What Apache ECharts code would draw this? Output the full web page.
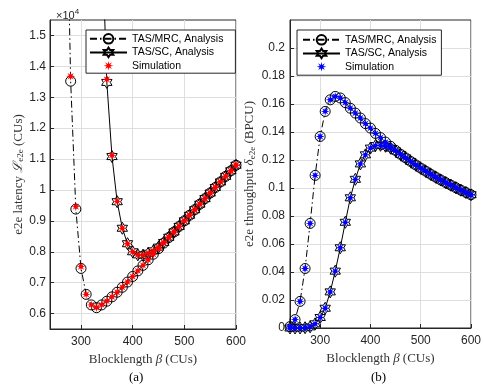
<!DOCTYPE html>
<html>
<head>
<meta charset="utf-8">
<script src="https://cdn.jsdelivr.net/npm/echarts@6/dist/echarts.min.js"></script>
<style>
  html, body { margin: 0; padding: 0; background: #fff; }
  #chart { width: 484px; height: 387px; }
</style>
</head>
<body>
<div id="chart"></div>
<script>
// blocklength grid (CUs), shared by both panels
const beta = [240,250,260,270,280,290,300,310,320,330,340,350,360,370,380,390,400,410,420,430,440,450,460,470,480,490,500,510,520,530,540,550,560,570,580,590,600];

// (a) e2e latency, x10^4 CUs
const latMrc = [null,null,null,2.18,1.352,0.938,0.746,0.662,0.628,0.619,0.628,0.640,0.654,0.669,0.685,0.702,0.720,0.738,0.756,0.774,0.792,0.810,0.828,0.846,0.864,0.882,0.900,0.918,0.936,0.954,0.972,0.990,1.008,1.026,1.044,1.062,1.080];
const latSc = [null,null,null,null,null,null,null,null,null,null,1.853,1.348,1.108,0.962,0.876,0.826,0.800,0.790,0.789,0.795,0.803,0.815,0.830,0.847,0.864,0.882,0.900,0.918,0.936,0.954,0.972,0.990,1.008,1.026,1.044,1.062,1.080];
const latSimMrc = [null,null,null,null,1.368,0.946,0.752,0.662,0.628,0.619,0.628,0.640,0.654,0.669,0.685,0.702,0.720,0.738,0.756,0.774,0.792,0.810,0.828,0.846,0.864,0.882,0.900,0.918,0.936,0.954,0.972,0.990,1.008,1.026,1.044,1.062,1.080];
const latSimSc = [null,null,null,null,null,null,null,null,null,null,null,1.358,1.112,0.963,0.876,0.826,0.800,0.790,0.789,0.795,0.803,0.815,0.830,0.847,0.864,0.882,0.900,0.918,0.936,0.954,0.972,0.990,1.008,1.026,1.044,1.062,1.080];

// (b) e2e throughput, BPCU
const thrMrc = [0.001,0.006,0.019,0.0425,0.0747,0.109,0.1368,0.1547,0.163,0.1654,0.1643,0.161,0.157,0.1535,0.150,0.146,0.1428,0.139,0.136,0.1328,0.1298,0.1269,0.1241,0.1215,0.119,0.1165,0.1142,0.112,0.1098,0.1077,0.1057,0.1038,0.102,0.1002,0.0984,0.0968,0.0952];
const thrSc = [0,0,0,0.0002,0.0008,0.003,0.0075,0.0141,0.0258,0.0406,0.0573,0.0755,0.093,0.1062,0.1172,0.1237,0.1285,0.1303,0.1305,0.1298,0.1285,0.1265,0.124,0.1215,0.119,0.1165,0.1142,0.112,0.1098,0.1077,0.1057,0.1038,0.102,0.1002,0.0984,0.0968,0.0952];
const thrSimMrc = thrMrc;
const thrSimSc = thrSc;

const xTicks = [300, 400, 500, 600];
const latTicks = [0.6, 0.7, 0.8, 0.9, 1, 1.1, 1.2, 1.3, 1.4, 1.5];
const thrTicks = [0, 0.02, 0.04, 0.06, 0.08, 0.1, 0.12, 0.14, 0.16, 0.18, 0.2];

const labels = {
  'a-mrc': 'TAS/MRC, Analysis', 'a-sc': 'TAS/SC, Analysis', 'a-sim': 'Simulation',
  'b-mrc': 'TAS/MRC, Analysis', 'b-sc': 'TAS/SC, Analysis', 'b-sim': 'Simulation'
};

const HEXAGRAM = 'path://M10 0L12.887 5L18.66 5L15.774 10L18.66 15L12.887 15L10 20L7.113 15L1.34 15L4.226 10L1.34 5L7.113 5Z';
const ASTERISK = 'path://M10 0L11.53 6.3L17.07 2.93L13.7 8.47L20 10L13.7 11.53L17.07 17.07L11.53 13.7L10 20L8.47 13.7L2.93 17.07L6.3 11.53L0 10L6.3 8.47L2.93 2.93L8.47 6.3Z';

const AX = '#262626';
const GRIDC = '#dedede';
const sans = 'Liberation Sans, Arial, sans-serif';
const serif = 'Liberation Serif, Times New Roman, serif';

const pairs = vals => beta.map((b, i) => [b, vals[i]]);

function analysis(name, idx, vals, kind) {
  const mrc = kind === 'mrc';
  return {
    type: 'line', name: name, xAxisIndex: idx, yAxisIndex: idx,
    data: pairs(vals),
    symbol: mrc ? 'circle' : HEXAGRAM,
    symbolSize: mrc ? 10 : 12,
    symbolKeepAspect: true,
    showAllSymbol: true,
    itemStyle: { color: 'rgba(255,255,255,0)', borderColor: '#000', borderWidth: 1 },
    lineStyle: { color: '#000', width: 1, type: mrc ? [7, 3, 1.5, 3] : 'solid' },
    emphasis: { disabled: true },
    animation: false
  };
}

function sim(name, idx, vals, color) {
  return {
    type: 'line', name: name, xAxisIndex: idx, yAxisIndex: idx,
    data: pairs(vals),
    symbol: ASTERISK, symbolSize: 9, showAllSymbol: true,
    itemStyle: { color: color },
    lineStyle: { opacity: 0, width: 0 },
    emphasis: { disabled: true },
    animation: false
  };
}

function xAxis(idx) {
  return {
    type: 'value', gridIndex: idx, min: 240, max: 600,
    name: 'Blocklength {i|β} (CUs)', nameLocation: 'middle', nameGap: 20,
    nameTextStyle: {
      fontFamily: serif, fontSize: 13, color: '#333',
      rich: { i: { fontFamily: serif, fontSize: 13, fontStyle: 'italic', color: '#333' } }
    },
    axisLine: { lineStyle: { color: AX, width: 1 } },
    axisTick: { inside: true, length: 4, customValues: xTicks, lineStyle: { color: AX } },
    axisLabel: { customValues: xTicks, margin: 7, fontFamily: sans, fontSize: 12, color: AX },
    splitLine: { show: true, lineStyle: { color: GRIDC, width: 1 } }
  };
}

const option = {
  animation: false,
  backgroundColor: '#fff',
  title: [{
    text: '×10{s|4}', left: 51, top: 3,
    textStyle: {
      fontFamily: sans, fontSize: 11, fontWeight: 'normal', color: AX,
      rich: { s: { fontFamily: sans, fontSize: 8, color: AX, padding: [0, 0, 7, 0] } }
    }
  }],
  graphic: [
    { type: 'text', left: 129, top: 371, style: { text: '(a)', font: '13px ' + serif, fill: '#000' } },
    { type: 'text', left: 371, top: 371, style: { text: '(b)', font: '13px ' + serif, fill: '#000' } }
  ],
  legend: [
    {
      data: ['a-mrc', 'a-sc', 'a-sim'], orient: 'vertical', left: 86, top: 30,
      backgroundColor: '#fff', borderColor: AX, borderWidth: 1, borderRadius: 0,
      padding: [3, 12, 2, 3], itemWidth: 37, itemHeight: 12, itemGap: 2,
      formatter: n => labels[n], selectedMode: false,
      textStyle: { fontFamily: sans, fontSize: 10.5, color: '#000' }
    },
    {
      data: ['b-mrc', 'b-sc', 'b-sim'], orient: 'vertical', left: 297, top: 30,
      backgroundColor: '#fff', borderColor: AX, borderWidth: 1, borderRadius: 0,
      padding: [4, 5, 3, 5], itemWidth: 37, itemHeight: 12, itemGap: 2,
      formatter: n => labels[n], selectedMode: false,
      textStyle: { fontFamily: sans, fontSize: 10.5, color: '#000' }
    }
  ],
  grid: [
    { left: 50, right: 248, top: 20, bottom: 58, show: true, borderColor: AX, borderWidth: 1, backgroundColor: '#fff' },
    { left: 290, right: 12, top: 20, bottom: 59, show: true, borderColor: AX, borderWidth: 1, backgroundColor: '#fff' }
  ],
  xAxis: [xAxis(0), xAxis(1)],
  yAxis: [
    {
      type: 'value', gridIndex: 0, min: 0.55, max: 1.55,
      name: '{t|e2e latency }{m|ℒ}{s|e2e}{t| (CUs)}', nameLocation: 'middle', nameGap: 24,
      nameTextStyle: {
        rich: {
          t: { fontFamily: serif, fontSize: 13, color: '#333' },
          m: { fontFamily: serif, fontSize: 13, fontStyle: 'italic', color: '#333' },
          s: { fontFamily: serif, fontSize: 9, color: '#333', padding: [5, 0, 0, 0] }
        }
      },
      axisLine: { lineStyle: { color: AX, width: 1 } },
      axisTick: { inside: true, length: 4, customValues: latTicks, lineStyle: { color: AX } },
      axisLabel: { customValues: latTicks, margin: 4, fontFamily: sans, fontSize: 12, color: AX },
      splitLine: { show: true, lineStyle: { color: GRIDC, width: 1 } }
    },
    {
      type: 'value', gridIndex: 1, min: 0, max: 0.22,
      name: '{t|e2e throughput }{m|δ}{s|e2e}{t| (BPCU)}', nameLocation: 'middle', nameGap: 33,
      nameTextStyle: {
        rich: {
          t: { fontFamily: serif, fontSize: 13, color: '#333' },
          m: { fontFamily: serif, fontSize: 13, fontStyle: 'italic', color: '#333' },
          s: { fontFamily: serif, fontSize: 9, color: '#333', padding: [5, 0, 0, 0] }
        }
      },
      axisLine: { lineStyle: { color: AX, width: 1 } },
      axisTick: { inside: true, length: 4, customValues: thrTicks, lineStyle: { color: AX } },
      axisLabel: { customValues: thrTicks, margin: 5, fontFamily: sans, fontSize: 12, color: AX },
      splitLine: { show: true, lineStyle: { color: GRIDC, width: 1 } }
    }
  ],
  series: [
    analysis('a-mrc', 0, latMrc, 'mrc'),
    analysis('a-sc', 0, latSc, 'sc'),
    sim('a-sim', 0, latSimMrc, '#ff0000'),
    sim('a-sim', 0, latSimSc, '#ff0000'),
    analysis('b-mrc', 1, thrMrc, 'mrc'),
    analysis('b-sc', 1, thrSc, 'sc'),
    sim('b-sim', 1, thrSimMrc, '#0000ff'),
    sim('b-sim', 1, thrSimSc, '#0000ff')
  ]
};

const myChart = echarts.init(document.getElementById('chart'), null, { renderer: 'canvas' });
myChart.setOption(option);
</script>
</body>
</html>
